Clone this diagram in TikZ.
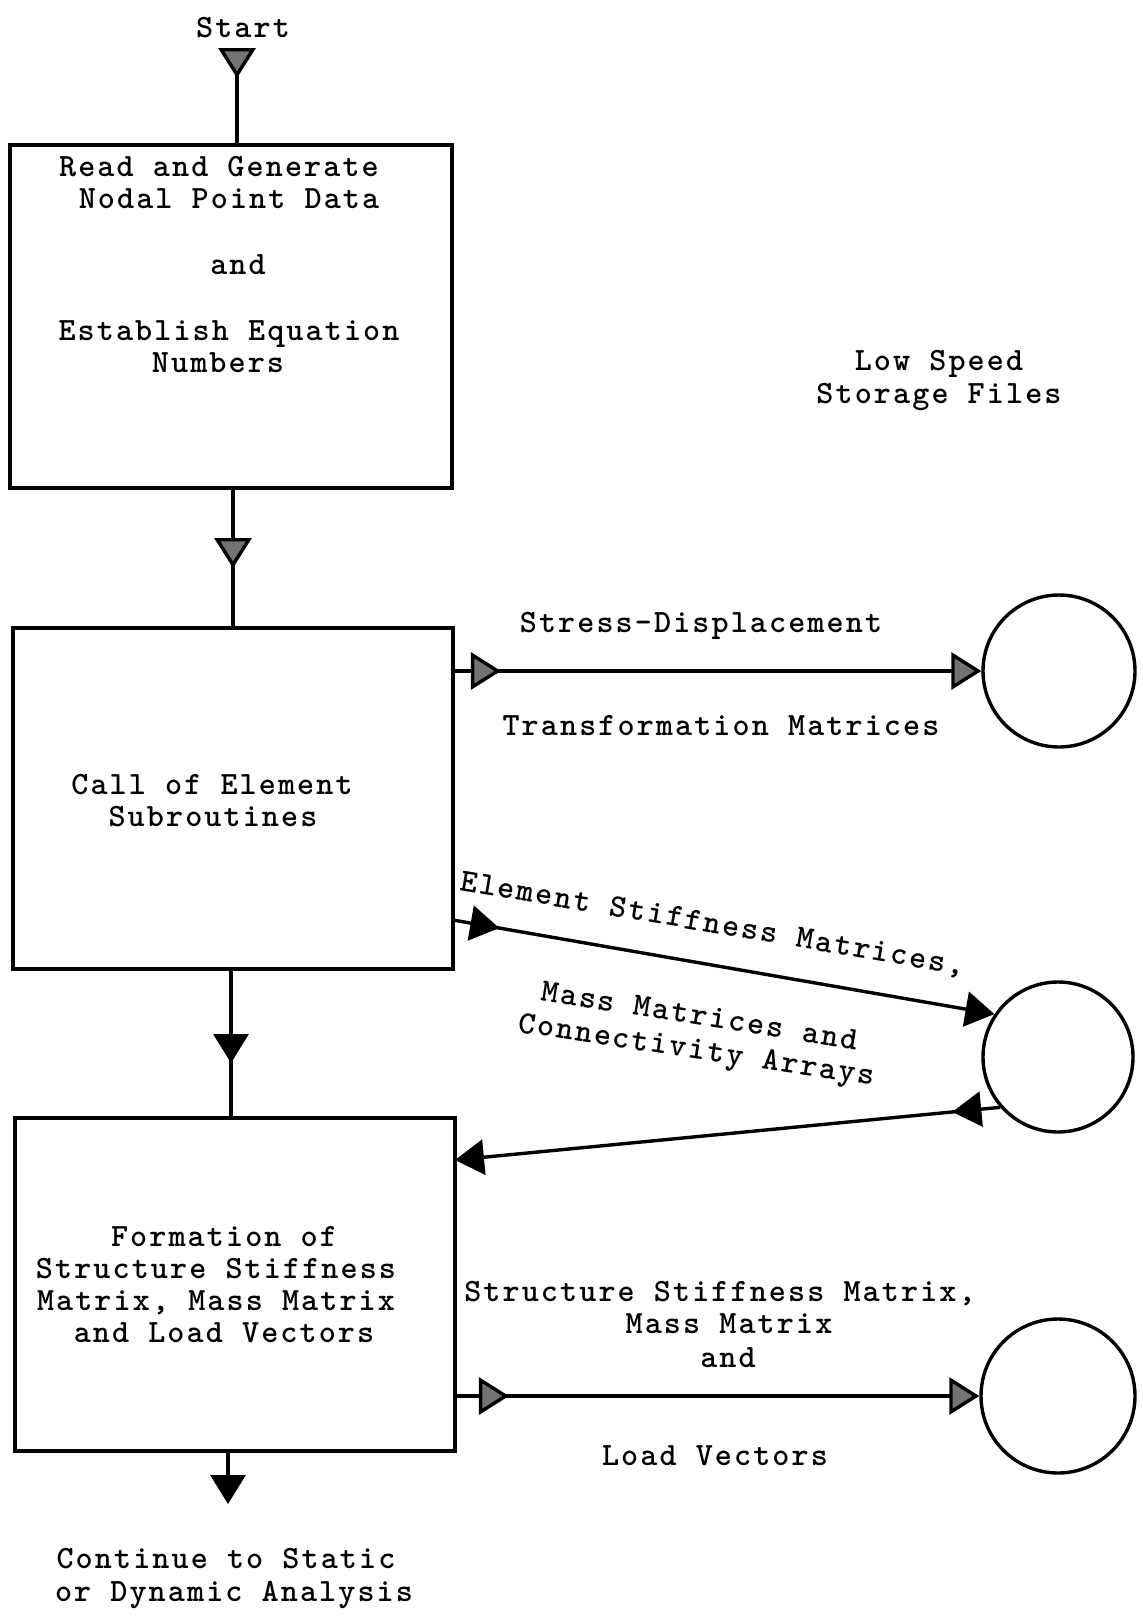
\documentclass[tikz,border=0pt]{standalone}
\usepackage{fontspec}
\newfontfamily\tw{lmmonolt10-bold.otf}[LetterSpace=6.5]
\usetikzlibrary{arrows.meta,decorations.markings,shapes.geometric}
\tikzset{
  lhead/.tip={Triangle[length=30pt,width=37pt,fill=black!55]},
  dhead/.tip={Triangle[length=29pt,width=35pt]},
  midhead/.style 2 args={postaction={decorate,decoration={markings,mark=at position #1 with {\arrow{#2}}}}},
  conn/.style={line width=3.4pt},
  boxst/.style={draw,line width=3.8pt,inner sep=0pt},
  circ/.style={draw,circle,line width=3.4pt,inner sep=0pt},
  lbl/.style={anchor=base,inner sep=0pt,font=\tw\fontsize{32.5}{33}\selectfont}
}
\begin{document}
\begin{tikzpicture}[x=1pt,y=-1pt]
\useasboundingbox[fill=white] (0,0) rectangle (1143,1617);

% boxes
\node[boxst,minimum width=442pt,minimum height=343pt] (b1) at (231,316.5) {};
\node[boxst,minimum width=440pt,minimum height=341pt] (b2) at (233,798.5) {};
\node[boxst,minimum width=440pt,minimum height=333pt] (b3) at (235,1284.5) {};

% circles
\node[circ,minimum size=152pt] (c1) at (1059,671) {};
\node[circ,minimum size=150pt] (c2) at (1058,1057) {};
\node[circ,minimum size=154pt] (c3) at (1058,1396) {};

% texts
\node[lbl] (start) at (243,37) {Start};
\node[lbl] (t1a) at (219,176) {Read and Generate};
\node[lbl] (t1b) at (229,208) {Nodal Point Data};
\node[lbl] (t1c) at (238,274) {and};
\node[lbl] (t1d) at (229,340) {Establish Equation};
\node[lbl] (t1e) at (218,372) {Numbers};

\node[lbl] (ls1) at (939,370) {Low Speed};
\node[lbl] (ls2) at (939,403) {Storage Files};

\node[lbl] (t2a) at (212,794) {Call of Element};
\node[lbl] (t2b) at (213,826) {Subroutines};

\node[lbl] (a1a) at (701,632) {Stress-Displacement};
\node[lbl] (a1b) at (721,735) {Transformation Matrices};

\node[lbl,anchor=base west,rotate=-9.6] (a2a) at (459,890) {Element Stiffness Matrices,};
\node[lbl,anchor=base west,rotate=-9] (a2b) at (540,1000) {Mass Matrices and};
\node[lbl,anchor=base west,rotate=-8.5] (a2c) at (517,1032) {Connectivity Arrays};

\node[lbl] (t3a) at (224,1246) {Formation of};
\node[lbl] (t3b) at (216,1278) {Structure Stiffness};
\node[lbl] (t3c) at (216,1310) {Matrix, Mass Matrix};
\node[lbl] (t3d) at (224,1342) {and Load Vectors};

\node[lbl] (a4a) at (720,1301) {Structure Stiffness Matrix,};
\node[lbl] (a4b) at (729,1333) {Mass Matrix};
\node[lbl] (a4c) at (728,1367) {and};
\node[lbl] (a4d) at (715,1465) {Load Vectors};

\node[lbl] (end1) at (226,1568) {Continue to Static};
\node[lbl] (end2) at (234,1601) {or Dynamic Analysis};

% coordinates
\coordinate (s0) at (237,48);
\coordinate (p1) at (233,488);
\coordinate (p2) at (231,969);
\coordinate (p3) at (228,1451);
\coordinate (o1) at (228,1504);
\coordinate (e2) at (453,920);
\coordinate (e3) at (455,1160);

% connectors
\draw[conn,midhead={30pt}{lhead}] (s0) -- (s0 |- b1.north);
\draw[conn,midhead={80pt}{lhead}] (p1) -- (p1 |- b2.north);
\draw[conn,midhead={94pt}{dhead}] (p2) -- (p2 |- b3.north);
\draw[conn,-{dhead}] (p3) -- (o1);

\draw[conn,midhead={46pt}{lhead},-{lhead}] (b2.east |- c1.west) -- (c1.west);
\draw[conn,midhead={47pt}{dhead},-{dhead}] (e2) -- (c2.146);
\draw[conn,midhead={48pt}{dhead},-{dhead}] (c2.221) -- (e3);
\draw[conn,midhead={52pt}{lhead},-{lhead}] (b3.east |- c3.west) -- (c3.west);
\end{tikzpicture}
\end{document}
